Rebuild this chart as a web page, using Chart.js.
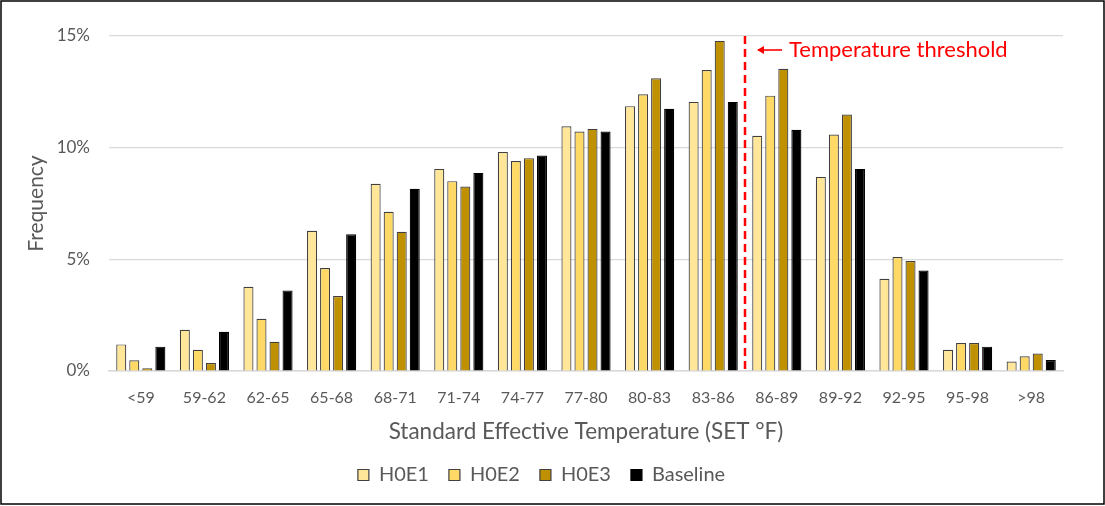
<!DOCTYPE html>
<html>
<head>
<meta charset="utf-8">
<script src="https://cdn.jsdelivr.net/npm/chart.js@4"></script>
<style>
html,body{margin:0;padding:0;background:#fff;}
#wrap{width:1105px;height:506px;position:relative;}
</style>
</head>
<body>
<div id="wrap"><canvas id="c" width="1105" height="506"></canvas></div>
<script>
const categories = ['<59','59-62','62-65','65-68','68-71','71-74','74-77','77-80','80-83','83-86','86-89','89-92','92-95','95-98','>98'];
const h0e1 = [1.19,1.85,3.77,6.28,8.38,9.05,9.81,10.96,11.86,12.05,10.53,8.69,4.13,0.95,0.42];
const h0e2 = [0.48,0.95,2.34,4.61,7.13,8.50,9.40,10.72,12.39,13.48,12.33,10.59,5.10,1.25,0.66];
const h0e3 = [0.12,0.36,1.31,3.36,6.23,8.26,9.53,10.84,13.11,14.78,13.53,11.48,4.92,1.25,0.78];
const baseline = [1.09,1.76,3.61,6.12,8.16,8.87,9.65,10.72,11.74,12.05,10.80,9.05,4.50,1.09,0.49];
const seriesNames = ['H0E1','H0E2','H0E3','Baseline'];
const yTicks = [0,5,10,15];
const thresholdAfter = '83-86';
const thresholdLabel = 'Temperature threshold';

const colors = ['#FFE699','#FFD966','#BF9000','#000000'];
const FONT = 'Lato, "Open Sans", sans-serif';
const GREY = '#595959';

const thresholdPlugin = {
  id: 'threshold',
  afterDatasetsDraw(chart) {
    const {ctx, chartArea, scales} = chart;
    const xs = scales.x;
    const i = categories.indexOf(thresholdAfter);
    const x = (xs.getPixelForValue(i) + xs.getPixelForValue(i + 1)) / 2;
    const yTop = scales.y.getPixelForValue(yTicks[yTicks.length - 1]);
    ctx.save();
    ctx.strokeStyle = '#FF0000';
    ctx.lineWidth = 2.5;
    ctx.setLineDash([8, 5]);
    ctx.beginPath();
    ctx.moveTo(x, yTop);
    ctx.lineTo(x, chartArea.bottom);
    ctx.stroke();
    ctx.setLineDash([]);
    // arrow
    const ay = yTop + 14;
    ctx.lineWidth = 1.6;
    ctx.beginPath();
    ctx.moveTo(x + 13, ay);
    ctx.lineTo(x + 37, ay);
    ctx.stroke();
    ctx.fillStyle = '#FF0000';
    ctx.beginPath();
    ctx.moveTo(x + 12, ay);
    ctx.lineTo(x + 19, ay - 4);
    ctx.lineTo(x + 19, ay + 4);
    ctx.closePath();
    ctx.fill();
    ctx.font = '22px ' + FONT;
    ctx.textBaseline = 'middle';
    ctx.textAlign = 'left';
    ctx.fillText(thresholdLabel, x + 44, ay);
    ctx.restore();
  }
};

const framePlugin = {
  id: 'frame',
  afterDraw(chart) {
    const ctx = chart.ctx;
    ctx.save();
    ctx.strokeStyle = '#000';
    ctx.lineWidth = 1.5;
    ctx.strokeRect(1, 1, chart.width - 2, chart.height - 3);
    ctx.restore();
  }
};

const data = {
  labels: categories,
  datasets: [h0e1, h0e2, h0e3, baseline].map((d, k) => ({
    label: seriesNames[k],
    data: d,
    backgroundColor: colors[k],
    borderColor: k === 3 ? '#000000' : '#404040',
    borderWidth: 1.2,
    categoryPercentage: 0.82,
    barPercentage: 0.77
  }))
};

new Chart(document.getElementById('c'), {
  type: 'bar',
  data,
  plugins: [thresholdPlugin, framePlugin],
  options: {
    responsive: false,
    animation: false,
    devicePixelRatio: 1,
    layout: {padding: {top: 36, left: 20, right: 42, bottom: 11}},
    plugins: {
      tooltip: {enabled: false},
      legend: {
        position: 'bottom',
        labels: {
          boxWidth: 11, boxHeight: 11, padding: 20,
          color: GREY,
          font: {family: FONT, size: 20}
        }
      }
    },
    scales: {
      x: {
        grid: {display: false},
        border: {display: true, color: '#D9D9D9', width: 1.5},
        ticks: {color: GREY, font: {family: FONT, size: 16}, padding: 9, maxRotation: 0, autoSkip: false},
        title: {display: true, text: 'Standard Effective Temperature (SET \u00B0F)', color: GREY, font: {family: FONT, size: 22.5}, padding: {top: 0, bottom: 0}},
        afterFit(s) { s.height = 74; }
      },
      y: {
        min: 0, max: 15,
        afterBuildTicks(s) { s.ticks = yTicks.map(v => ({value: v})); },
        grid: {color: '#D9D9D9', lineWidth: 1.2, drawTicks: false},
        border: {display: false},
        ticks: {color: GREY, font: {family: FONT, size: 17}, padding: 19, callback: v => v + '%'},
        title: {display: true, text: 'Frequency', color: GREY, font: {family: FONT, size: 21}, padding: {bottom: 0}},
        afterFit(s) { s.width = 89; }
      }
    }
  }
});
</script>
</body>
</html>
